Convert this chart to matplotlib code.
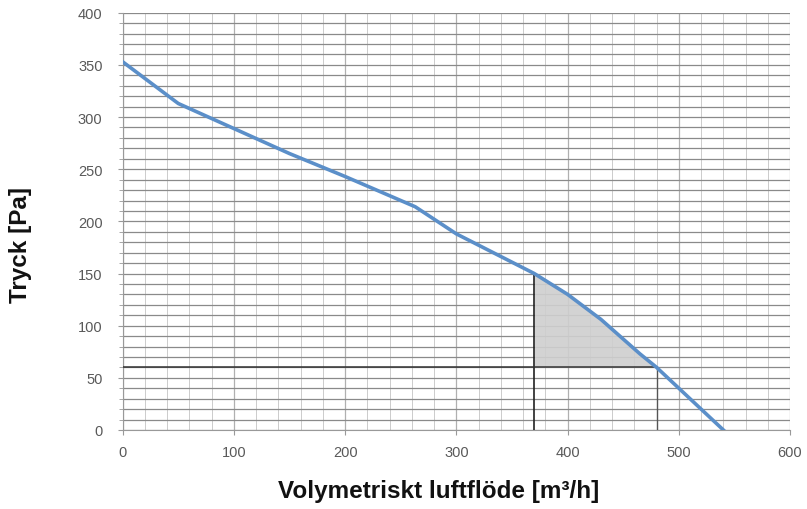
import matplotlib
matplotlib.use("Agg")
import matplotlib.pyplot as plt
import numpy as np

flow = [0, 50, 100, 150, 200, 263, 300, 370, 400, 430, 465, 480, 520, 540]
pressure = [353, 313, 289, 265, 243, 214, 188, 150, 130, 106, 73, 60, 20, 0]
x_lo, x_hi, p_min = 370, 480, 60
x_ticks = [0, 100, 200, 300, 400, 500, 600]
y_ticks = [0, 50, 100, 150, 200, 250, 300, 350, 400]

plt.rcParams['font.family'] = ['Liberation Sans', 'DejaVu Sans']

fig = plt.figure(figsize=(8.07, 5.10), dpi=100)
ax = fig.add_axes([0.152, 0.155, 0.827, 0.818])

ax.set_xlim(0, 600)
ax.set_ylim(0, 400)
ax.set_xticks(x_ticks)
ax.set_yticks(y_ticks)
ax.set_xticks(np.arange(0, 601, 20), minor=True)
ax.set_yticks(np.arange(0, 401, 10), minor=True)
ax.grid(which='major', axis='x', color='#b0b0b0', lw=0.9)
ax.grid(which='minor', axis='x', color='#cccccc', lw=0.7)
ax.grid(which='both', axis='y', color='#8a8a8a', lw=0.9)
ax.set_axisbelow(True)
for s in ['top', 'right']:
    ax.spines[s].set_visible(False)
ax.spines['left'].set_color('#999999')
ax.spines['bottom'].set_color('#999999')
ax.tick_params(which='both', colors='#999999', labelcolor='#595959', labelsize=10.5)
ax.tick_params(axis='x', which='major', pad=7)
ax.tick_params(axis='y', which='major', pad=11)
ax.tick_params(which='minor', length=3)
ax.tick_params(axis='x', which='minor', length=0)

fx = np.array(flow, float)
fp = np.array(pressure, float)
xs = np.linspace(x_lo, x_hi, 100)
ax.fill_between(xs, p_min, np.interp(xs, fx, fp), color='#cfcfcf', alpha=0.9, lw=0, zorder=2)
ax.plot([x_lo, x_lo], [0, np.interp(x_lo, fx, fp)], color='#222222', lw=1.2, zorder=3)
ax.plot([x_hi, x_hi], [0, p_min], color='#555555', lw=1.0, zorder=3)
ax.plot([0, x_hi], [p_min, p_min], color='#333333', lw=1.1, zorder=3)
ax.plot(flow, pressure, color='#5b8fc9', lw=2.6, zorder=4)

fig.text(439 / 807, 1 - 492 / 510, 'Volymetriskt luftflöde [m³/h]', fontsize=17.5,
         fontweight='bold', ha='center', va='center', color='#111111')
fig.text(21 / 807, 1 - 245 / 510, 'Tryck [Pa]', fontsize=17.5, fontweight='bold',
         rotation=90, ha='center', va='center', color='#111111')

fig.savefig('out.png', dpi=100)
